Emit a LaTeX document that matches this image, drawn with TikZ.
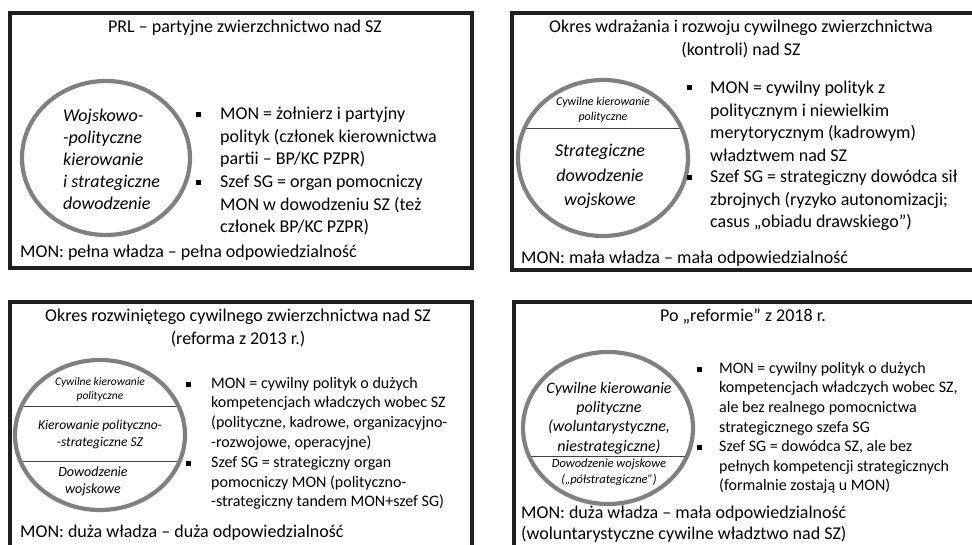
\documentclass[tikz,border=0pt]{standalone}
\usepackage{fontspec}
\setmainfont{Carlito}
\usepackage{tikz}
\usetikzlibrary{positioning,calc}

\begin{document}
\begin{tikzpicture}[x=1pt, y=-1pt,
        panel/.style={draw=black!88, line width=3.2pt},
        ring/.style={draw=black!50, line width=4.2pt},
        divider/.style={draw=black!75, line width=0.9pt},
        txt/.style={inner sep=0pt, text=black, font=\fontsize{18}{22.5}\selectfont},
        head/.style={txt, align=center},
        listtxt/.style={txt, align=left, anchor=west},
        smalllist/.style={listtxt, font=\fontsize{16}{19.7}\selectfont},
        sq/.style={fill=black, minimum size=5pt, inner sep=0pt},
        foot/.style={txt, anchor=west, align=left}
    ]
        \useasboundingbox (0,0) rectangle (972,545);
        \clip (0,0) rectangle (972,545);

        % PRL
        \draw[panel] (10,13) rectangle (472,268);
        \node[head] (prlTitle) at (245,28) {PRL – partyjne zwierzchnictwo nad SZ};
        \draw[ring] (106,158) ellipse [x radius=84, y radius=77];
        \node[txt, anchor=west, align=left, font=\fontsize{18}{22}\selectfont\itshape] (prlRing) at (63,159)
            {Wojskowo-\\-polityczne\\kierowanie\\i strategiczne\\dowodzenie};
        \node[sq] (prlSqA) at (198,115) {};
        \node[listtxt] (prlMon) at (220,137.5) {MON = żołnierz i partyjny\\polityk (członek kierownictwa\\partii – BP/KC PZPR)};
        \node[sq] (prlSqB) at (198,183) {};
        \node[listtxt] (prlSg) at (220,205.5) {Szef SG = organ pomocniczy\\MON w dowodzeniu SZ (też\\członek BP/KC PZPR)};
        \node[foot] (prlFoot) at (20,253) {MON: pełna władza – pełna odpowiedzialność};

        % okres wdrazania
        \draw[panel] (512,13) rectangle (1000,270);
        \node[head] (wdrTitle) at (741,39) {Okres wdrażania i rozwoju cywilnego zwierzchnictwa\\(kontroli) nad SZ};
        \begin{scope}
            \clip (603,158) ellipse [x radius=85, y radius=78];
            \draw[divider] (500,128) -- (700,128);
        \end{scope}
        \draw[ring] (603,158) ellipse [x radius=85, y radius=78];
        \node[head, font=\fontsize{12}{15}\selectfont\itshape] (wdrPol) at (603,110) {Cywilne kierowanie\\polityczne};
        \node[head, font=\fontsize{18}{24.5}\selectfont\itshape] (wdrDow) at (600,176.5) {Strategiczne\\dowodzenie\\wojskowe};
        \node[sq] (wdrSqA) at (689,88) {};
        \node[listtxt] (wdrMon) at (710,121.5) {MON = cywilny polityk z\\politycznym i niewielkim\\merytorycznym (kadrowym)\\władztwem nad SZ};
        \node[sq] (wdrSqB) at (689,178) {};
        \node[listtxt] (wdrSg) at (710,200.5) {Szef SG = strategiczny dowódca sił\\zbrojnych (ryzyko autonomizacji;\\casus „obiadu drawskiego”)};
        \node[foot] (wdrFoot) at (521,259) {MON: mała władza – mała odpowiedzialność};

        % reforma 2013
        \draw[panel] (10,302) rectangle (472,560);
        \node[head] (r13Title) at (238,328) {Okres rozwiniętego cywilnego zwierzchnictwa nad SZ\\(reforma z 2013 r.)};
        \begin{scope}
            \clip (100,435) ellipse [x radius=85, y radius=75];
            \draw[divider] (0,406) -- (200,406);
            \draw[divider] (0,461) -- (200,461);
        \end{scope}
        \draw[ring] (100,435) ellipse [x radius=85, y radius=75];
        \node[head, font=\fontsize{11.5}{14}\selectfont\itshape] (r13Pol) at (100,389) {Cywilne kierowanie\\polityczne};
        \node[head, font=\fontsize{13.5}{17}\selectfont\itshape] (r13Str) at (100,434.5) {Kierowanie polityczno-\\-strategiczne SZ};
        \node[head, font=\fontsize{14}{17}\selectfont\itshape] (r13Dow) at (93,481.5) {Dowodzenie\\wojskowe};
        \node[sq] (r13SqA) at (188,384) {};
        \node[smalllist] (r13Mon) at (211,413.5) {MON = cywilny polityk o dużych\\kompetencjach władczych wobec SZ\\(polityczne, kadrowe, organizacyjno-\\-rozwojowe, operacyjne)};
        \node[sq] (r13SqB) at (188,463) {};
        \node[smalllist] (r13Sg) at (211,483) {Szef SG = strategiczny organ\\pomocniczy MON (polityczno-\\-strategiczny tandem MON+szef SG)};
        \node[foot] (r13Foot) at (20,533) {MON: duża władza – duża odpowiedzialność};

        % po reformie 2018
        \draw[panel] (514,302) rectangle (1000,560);
        \node[head] (r18Title) at (743,317) {Po „reformie” z 2018 r.};
        \begin{scope}
            \clip (608,428) ellipse [x radius=85, y radius=76];
            \draw[divider] (500,456) -- (720,456);
        \end{scope}
        \draw[ring] (608,428) ellipse [x radius=85, y radius=76];
        \node[head, font=\fontsize{16}{19.3}\selectfont\itshape] (r18Pol) at (609,418) {Cywilne kierowanie\\polityczne\\(woluntarystyczne,\\niestrategiczne)};
        \node[head, font=\fontsize{12.5}{16}\selectfont\itshape] (r18Dow) at (609,472) {Dowodzenie wojskowe\\(„półstrategiczne”)};
        \node[sq] (r18SqA) at (699,369) {};
        \node[smalllist] (r18Mon) at (719,398.5) {MON = cywilny polityk o dużych\\kompetencjach władczych wobec SZ,\\ale bez realnego pomocnictwa\\strategicznego szefa SG};
        \node[sq] (r18SqB) at (699,447) {};
        \node[smalllist] (r18Sg) at (719,467) {Szef SG = dowódca SZ, ale bez\\pełnych kompetencji strategicznych\\(formalnie zostają u MON)};
        \node[foot, font=\fontsize{18}{21}\selectfont] (r18Foot) at (521,524.5) {MON: duża władza – mała odpowiedzialność\\(woluntarystyczne cywilne władztwo nad SZ)};
    \end{tikzpicture}
\end{document}
